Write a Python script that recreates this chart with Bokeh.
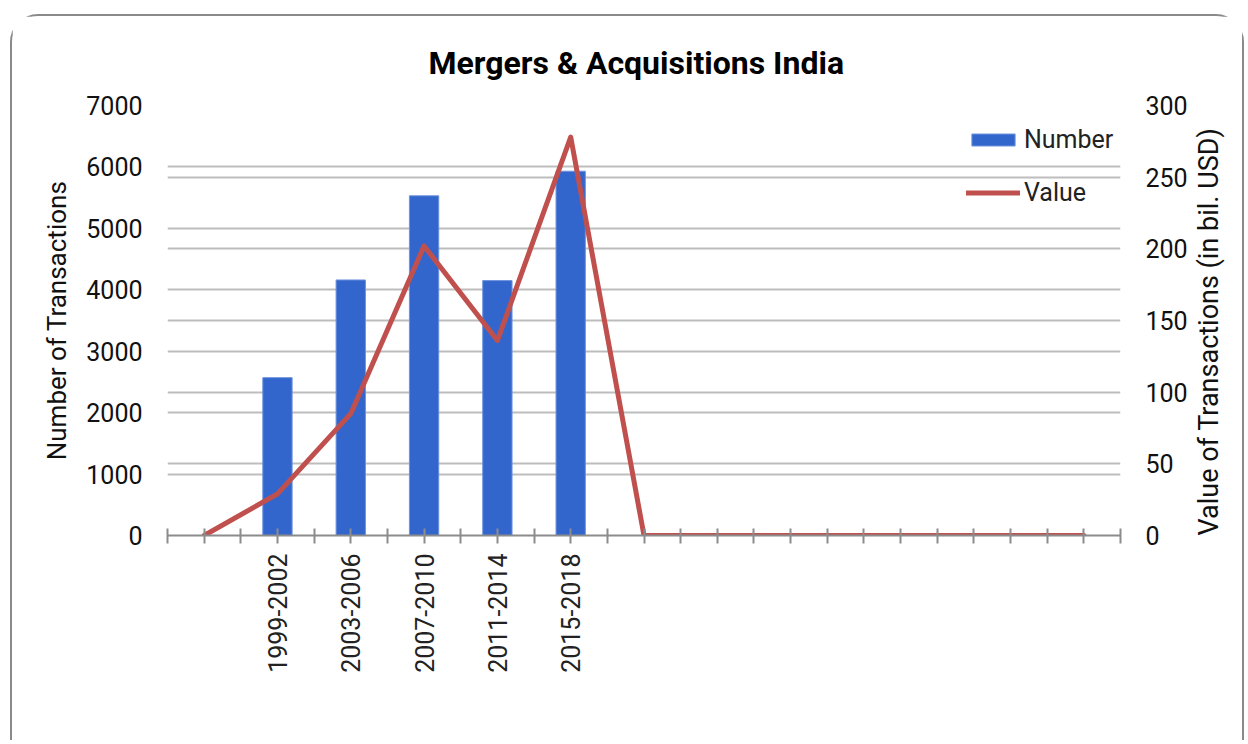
import math
from bokeh.plotting import figure
from bokeh.models import (Range1d, LinearAxis, FixedTicker, CustomJSTickFormatter,
                          Grid, Legend, LegendItem, ColumnDataSource)
from bokeh.embed import file_html
from bokeh.resources import INLINE

# ---- data ----
periods = ["", "1999-2002", "2003-2006", "2007-2010", "2011-2014", "2015-2018",
           "", "", "", "", "", "", ""]
number_of_transactions = [0, 2570, 4160, 5530, 4150, 5930, 0, 0, 0, 0, 0, 0, 0]
value_bil_usd = [0, 29, 85, 202, 136, 278, 0, 0, 0, 0, 0, 0, 0]
left_ticks = [0, 1000, 2000, 3000, 4000, 5000, 6000, 7000]
right_ticks = [0, 50, 100, 150, 200, 250, 300]
chart_title = "Mergers & Acquisitions India"

FONT = "Roboto"
n = len(periods)
xs = [i + 0.5 for i in range(n)]
src = ColumnDataSource(dict(x=xs, num=number_of_transactions, val=value_bil_usd, lab=periods))

W, H = 1234, 726
p = figure(width=W, height=H, output_backend="svg", toolbar_location=None,
           x_range=Range1d(0, n), y_range=Range1d(0, 7000),
           min_border_left=155, min_border_right=126, min_border_top=89, min_border_bottom=207)
p.extra_y_ranges = {"right": Range1d(0, 300)}
p.outline_line_color = None
p.background_fill_color = "white"
p.border_fill_color = "white"
p.styles = {"margin-left": "10px", "margin-top": "14px",
            "border": "2px solid #8A8A8A", "border-bottom": "none",
            "border-radius": "28px 28px 0 0"}

# grids
p.xgrid.visible = False
p.ygrid.ticker = FixedTicker(ticks=left_ticks)
p.ygrid.grid_line_color = "#BDBDBD"
p.ygrid.grid_line_width = 2
rgrid = Grid(dimension=1, ticker=FixedTicker(ticks=right_ticks), y_range_name="right",
             grid_line_color="#BDBDBD", grid_line_width=2)
p.add_layout(rgrid)

# bars and line
bars = p.vbar(x="x", top="num", width=0.4, source=src, fill_color="#3366CC",
              line_color="#6E93DD", line_width=1)
line = p.line(x="x", y="val", source=src, y_range_name="right", line_color="#C0504D",
              line_width=5, line_join="round", line_cap="round")

# x axis
xa = p.xaxis[0]
xa.ticker = FixedTicker(ticks=[i * 0.5 for i in range(2 * n + 1)])
xa.formatter = CustomJSTickFormatter(args=dict(labels=periods), code="""
const i = Math.round(tick * 2);
if (i % 2 === 1) { return labels[(i - 1) / 2]; }
return "";
""")
xa.major_label_orientation = math.pi / 2
xa.axis_line_color = "#8C8C8C"
xa.axis_line_width = 2
xa.major_tick_line_color = "#8C8C8C"
xa.major_tick_line_width = 2
xa.major_tick_in = 7
xa.major_tick_out = 8
xa.minor_tick_line_color = None
xa.major_label_standoff = 10
xa.major_label_text_font = FONT
xa.major_label_text_font_size = "25px"
xa.major_label_text_color = "#222222"

# left y axis
ya = p.yaxis[0]
ya.ticker = FixedTicker(ticks=left_ticks)
ya.axis_line_color = None
ya.major_tick_line_color = None
ya.minor_tick_line_color = None
ya.major_tick_out = 0
ya.major_tick_in = 0
ya.major_label_standoff = 25
ya.major_label_text_font = FONT
ya.major_label_text_font_size = "25px"
ya.major_label_text_color = "#111111"
ya.axis_label = "Number of Transactions"
ya.axis_label_text_font = FONT
ya.axis_label_text_font_style = "normal"
ya.axis_label_text_font_size = "26px"
ya.axis_label_text_color = "#111111"
ya.axis_label_standoff = 11

# right y axis (title reads bottom-to-top as in the reference)
ra = LinearAxis(y_range_name="right", ticker=FixedTicker(ticks=right_ticks))
ra.axis_line_color = None
ra.major_tick_line_color = None
ra.minor_tick_line_color = None
ra.major_tick_out = 0
ra.major_tick_in = 0
ra.major_label_standoff = 25
ra.major_label_text_font = FONT
ra.major_label_text_font_size = "25px"
ra.major_label_text_color = "#111111"
ra.axis_label = "Value of Transactions (in bil. USD)"
ra.axis_label_text_font = FONT
ra.axis_label_text_font_style = "normal"
ra.axis_label_text_font_size = "27px"
ra.axis_label_text_color = "#111111"
ra.axis_label_standoff = 18
ra.axis_label_orientation = math.pi / 2
try:
    ra.axis_label_align = "start"
except Exception:
    pass
p.add_layout(ra, "right")

# title
p.title.text = chart_title
p.title.text_font = FONT
p.title.text_font_style = "bold"
p.title.text_font_size = "32px"
p.title.text_color = "#000000"
p.title.align = "left"
p.title.offset = 261
p.title.standoff = 47

# legend
legend = Legend(items=[LegendItem(label="Number", renderers=[bars]),
                       LegendItem(label="Value", renderers=[line])],
                location=(799, 328), padding=0, margin=0, spacing=24,
                glyph_width=54, glyph_height=15, label_standoff=4,
                label_text_font=FONT, label_text_font_size="25px",
                label_text_color="#222222",
                border_line_color=None, background_fill_alpha=0)
p.add_layout(legend)

open("out.html", "w").write(file_html(p, INLINE))
